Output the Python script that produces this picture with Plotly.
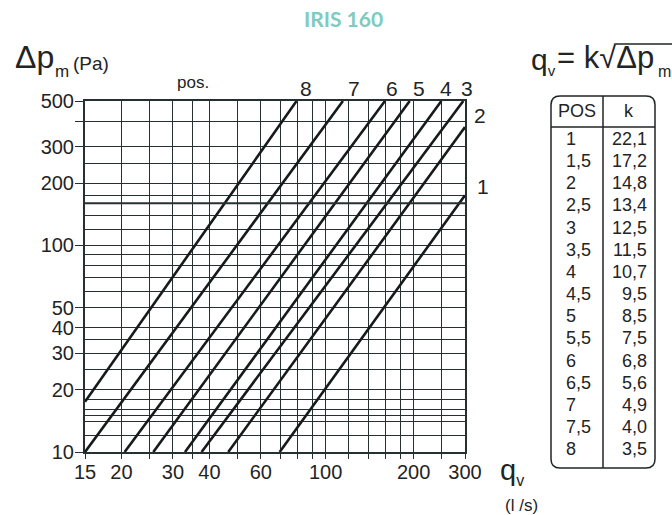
import plotly.graph_objects as go

# ---------------- data ----------------
positions = ["8", "7", "6", "5", "4", "3", "2", "1"]
q_start = [15, 15, 20.5, 25.7, 33.0, 37.6, 46.4, 69.6]
dp_start = [17.5, 10, 10, 10, 10, 10, 10, 10]
q_end = [79.5, 114.6, 159.6, 194, 249, 296, 300, 300]
dp_end = [500, 500, 500, 500, 500, 500, 374, 175]

table_pos = ["1", "1,5", "2", "2,5", "3", "3,5", "4", "4,5", "5", "5,5", "6", "6,5", "7", "7,5", "8"]
table_k = ["22,1", "17,2", "14,8", "13,4", "12,5", "11,5", "10,7", "9,5", "8,5", "7,5", "6,8", "5,6", "4,9", "4,0", "3,5"]

x_ticks = [15, 20, 30, 40, 60, 100, 200, 300]
x_minor = [25, 35, 50, 70, 80, 90, 120, 140, 160, 180, 250]
y_grid = [10, 12, 14, 15, 16, 18, 20, 25, 30, 35, 40, 50, 60, 70, 80, 90, 100,
          120, 140, 160, 175, 200, 250, 300, 400, 500]
y_ticks = [10, 20, 30, 40, 50, 100, 200, 300, 500]
y_extra_tick = [400]
y_highlight = 160

# ---------------- layout geometry (pixels) ----------------
W, H = 672, 515
L, R, T, B = 85, 465, 101, 452
FONT = "Liberation Sans, Arial, sans-serif"
INK = "#1f2424"
GRID = "#263030"


def px(x):
    return (x - L) / (R - L)


def py(y):
    return (B - y) / (B - T)


fig = go.Figure()

for name, x0, y0, x1, y1 in zip(positions, q_start, dp_start, q_end, dp_end):
    fig.add_trace(go.Scatter(x=[x0, x1], y=[y0, y1], mode="lines", name="pos " + name,
                             line=dict(color="#161a1a", width=2.6), showlegend=False,
                             hoverinfo="skip"))
# invisible anchor trace for the tick axis
fig.add_trace(go.Scatter(x=[q_start[0]], y=[dp_start[0]], yaxis="y2", mode="markers",
                         marker=dict(opacity=0), showlegend=False, hoverinfo="skip"))

fig.add_shape(type="line", xref="paper", yref="y", x0=0, x1=1, y0=y_highlight, y1=y_highlight,
              line=dict(color=GRID, width=2.0), layer="above")

fig.update_layout(
    xaxis=dict(type="log", range=[1.17609, 2.47712],
               tickmode="array", tickvals=x_ticks, ticktext=[str(v) for v in x_ticks],
               ticks="outside", ticklen=5, tickwidth=1.4, tickcolor=GRID,
               ticklabelstandoff=-4,
               showgrid=True, gridcolor=GRID, gridwidth=1.4,
               minor=dict(tickmode="array", tickvals=x_minor, ticks="outside", ticklen=5,
                          tickwidth=1.4, tickcolor=GRID, showgrid=True,
                          gridcolor=GRID, gridwidth=1.4),
               showline=True, mirror=True, linecolor=GRID, linewidth=1.7,
               zeroline=False, tickfont=dict(family=FONT, size=20, color=INK)),
    yaxis=dict(type="log", range=[1, 2.69897],
               tickmode="array", tickvals=y_grid, showticklabels=False, ticks="",
               showgrid=True, gridcolor=GRID, gridwidth=1.4,
               showline=True, mirror=True, linecolor=GRID, linewidth=1.7,
               zeroline=False),
    yaxis2=dict(type="log", range=[1, 2.69897], overlaying="y", side="left",
                tickmode="array", tickvals=y_ticks, ticktext=[str(v) for v in y_ticks],
                ticks="outside", ticklen=9, tickwidth=1.4, tickcolor=GRID,
                ticklabelstandoff=-3,
                minor=dict(tickmode="array", tickvals=y_extra_tick, ticks="outside",
                           ticklen=9, tickwidth=1.4, tickcolor=GRID, showgrid=False),
                showgrid=False, showline=False, zeroline=False,
                tickfont=dict(family=FONT, size=20, color=INK)),
)

ann = []


def text(x, y, s, size, xa="center", ya="middle", color=INK, family=FONT):
    ann.append(dict(x=px(x), y=py(y), xref="paper", yref="paper", text=s, showarrow=False,
                    xanchor=xa, yanchor=ya, font=dict(family=family, size=size, color=color)))


# title
text(343, 18, "<b>IRIS 160</b>", 21, color="#7fcbbd", family="Lato, Open Sans, sans-serif")
# y axis title
text(13, 57, "Δp", 32, xa="left")
text(53, 72, "m", 17, xa="left")
text(71, 63, "(Pa)", 19, xa="left")
# pos.
text(193, 83, "pos.", 17)
# line labels on top
for lab, x in zip(["8", "7", "6", "5", "4", "3"], [306, 354, 392, 419, 446, 467]):
    text(x, 89, lab, 21)
text(480, 115, "2", 21)
text(483, 186, "1", 21)
# x axis title
text(498, 471, "q<sub><span style='font-size:16px'>v</span></sub>", 29, xa="left")
text(521, 505, "(l /s)", 17)
# formula
text(529, 61, "q<sub><span style='font-size:15px'>v</span></sub>", 30, xa="left")
text(555, 58, "= k√Δp", 31, xa="left")
text(656, 71, "m", 16, xa="left")

# table
tl, tr, tt, tb, rad = 551, 655, 96, 468, 9
path = (f"M {px(tl + rad)},{py(tt)} L {px(tr - rad)},{py(tt)} Q {px(tr)},{py(tt)} {px(tr)},{py(tt + rad)} "
        f"L {px(tr)},{py(tb - rad)} Q {px(tr)},{py(tb)} {px(tr - rad)},{py(tb)} "
        f"L {px(tl + rad)},{py(tb)} Q {px(tl)},{py(tb)} {px(tl)},{py(tb - rad)} "
        f"L {px(tl)},{py(tt + rad)} Q {px(tl)},{py(tt)} {px(tl + rad)},{py(tt)} Z")
shapes = [
    dict(type="path", xref="paper", yref="paper", path=path, line=dict(color=INK, width=1.5)),
    dict(type="line", xref="paper", yref="paper", x0=px(tl), x1=px(tr), y0=py(127), y1=py(127),
         line=dict(color=INK, width=1.5)),
    dict(type="line", xref="paper", yref="paper", x0=px(603), x1=px(603), y0=py(tt), y1=py(tb),
         line=dict(color=INK, width=1.5)),
    # radical overline
    dict(type="line", xref="paper", yref="paper", x0=px(616), x1=px(672), y0=py(44), y1=py(44),
         line=dict(color=INK, width=1.5)),
]
text(577, 111, "POS", 18)
text(629, 111, "k", 18)
for i, (p, k) in enumerate(zip(table_pos, table_k)):
    yy = 139 + i * 22.15
    text(564, yy, p, 18, xa="left")
    text(649, yy, k, 18, xa="right")

fig.update_layout(width=W, height=H, margin=dict(l=L, r=W - R, t=T, b=H - B),
                  paper_bgcolor="white", plot_bgcolor="white",
                  annotations=ann, shapes=list(fig.layout.shapes) + shapes)
fig.write_html("out.html")
